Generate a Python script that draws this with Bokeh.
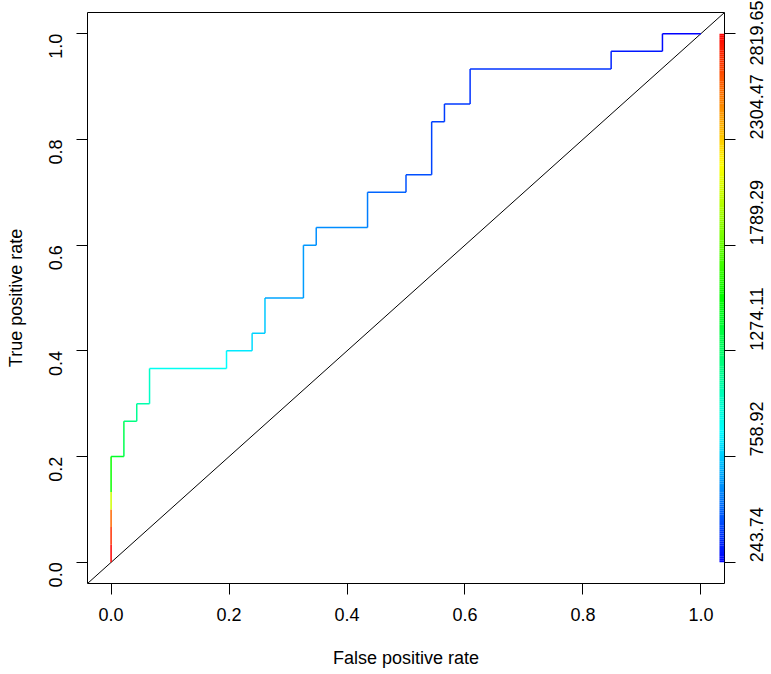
import math
import colorsys
import numpy as np
from bokeh.plotting import figure
from bokeh.models import LinearAxis, FixedTicker, PrintfTickFormatter, Range1d
from bokeh.embed import file_html
from bokeh.resources import INLINE

# ROC curve vertices (false positive rate, true positive rate) and cutoff at each vertex
fpr = [0.0, 0.0, 0.0, 0.0, 0.0, 0.0, 0.0217, 0.0217, 0.0435, 0.0435, 0.0652, 0.0652,
       0.1957, 0.1957, 0.2391, 0.2391, 0.2609, 0.2609, 0.3261, 0.3261, 0.3478, 0.3478,
       0.4348, 0.4348, 0.5, 0.5, 0.5435, 0.5435, 0.5652, 0.5652, 0.6087, 0.6087,
       0.8478, 0.8478, 0.9348, 0.9348, 1.0]
tpr = [0.0, 0.0333, 0.0667, 0.1, 0.1333, 0.2, 0.2, 0.2667, 0.2667, 0.3, 0.3, 0.3667,
       0.3667, 0.4, 0.4, 0.4333, 0.4333, 0.5, 0.5, 0.6, 0.6, 0.6333, 0.6333, 0.7,
       0.7, 0.7333, 0.7333, 0.8333, 0.8333, 0.8667, 0.8667, 0.9333, 0.9333, 0.9667,
       0.9667, 1.0, 1.0]
cutoff = [float("inf"), 2819.65, 2700, 2560, 2050, 1560, 1430, 1330, 1210, 1160, 1100,
          1030, 920, 885, 835, 800, 770, 750, 660, 640, 625, 605, 600, 560, 500, 450,
          442, 415, 405, 395, 385, 370, 372, 330, 300, 270, 243.74]

cut_min, cut_max = 243.74, 2819.65
colorbar_ticks = [0.0, 0.2, 0.4, 0.6, 0.8, 1.0]
colorbar_labels = ["243.74", "758.92", "1274.11", "1789.29", "2304.47", "2819.65"]
axis_ticks = [0.0, 0.2, 0.4, 0.6, 0.8, 1.0]


def cut_color(c):
    t = (c - cut_min) / (cut_max - cut_min)
    t = min(max(t, 0.0), 1.0)
    h = (4.0 / 6.0) * (1.0 - t)
    r, g, b = colorsys.hsv_to_rgb(h, 1.0, 1.0)
    return "#%02x%02x%02x" % (int(round(r * 255)), int(round(g * 255)), int(round(b * 255)))


FONT = "Liberation Sans"
FS = "18px"
TICK = 11

p = figure(frame_width=637, frame_height=571, output_backend="svg", toolbar_location=None,
           x_range=Range1d(-0.04, 1.04), y_range=Range1d(-0.04, 1.04),
           min_border_left=87, min_border_top=12, min_border_right=0, min_border_bottom=91)
p.background_fill_color = "white"
p.border_fill_color = "white"
p.outline_line_color = "black"
p.outline_line_width = 1
p.grid.visible = False

# diagonal reference line across the whole plot region
p.line([-0.04, 1.04], [-0.04, 1.04], line_color="black", line_width=1)

# colorized ROC curve
seg_colors = [cut_color(c) for c in cutoff[1:]]
p.segment(x0=fpr[:-1], y0=tpr[:-1], x1=fpr[1:], y1=tpr[1:], line_color=seg_colors,
          line_width=1.5)

# colour bar along the right edge
n = 256
edges = np.linspace(0.0, 1.0, n + 1)
bar_cut = cut_min + (edges[:-1] + edges[1:]) / 2 * (cut_max - cut_min)
p.quad(left=1.0315, right=1.04, bottom=edges[:-1], top=edges[1:],
       fill_color=[cut_color(c) for c in bar_cut], line_color=None)

for ax in (p.xaxis[0], p.yaxis[0]):
    ax.ticker = FixedTicker(ticks=axis_ticks)
    ax.formatter = PrintfTickFormatter(format="%.1f")
    ax.axis_line_color = None
    ax.major_tick_out = TICK
    ax.major_tick_in = 0
    ax.minor_tick_out = 0
    ax.minor_tick_in = 0
    ax.major_tick_line_color = "black"
    ax.major_label_text_font = FONT
    ax.major_label_text_font_size = FS
    ax.major_label_text_color = "black"
    ax.axis_label_text_font = FONT
    ax.axis_label_text_font_size = FS
    ax.axis_label_text_font_style = "normal"
    ax.axis_label_text_color = "black"

p.xaxis[0].axis_label = "False positive rate"
p.xaxis[0].major_label_standoff = 13
p.xaxis[0].axis_label_standoff = 24
p.yaxis[0].axis_label = "True positive rate"
p.yaxis[0].major_label_orientation = math.pi / 2
p.yaxis[0].major_label_standoff = 21
p.yaxis[0].axis_label_standoff = 14

right = LinearAxis(ticker=FixedTicker(ticks=colorbar_ticks),
                   major_label_overrides={k: v for k, v in zip(colorbar_ticks, colorbar_labels)})
right.axis_line_color = None
right.major_tick_out = TICK
right.major_tick_in = 0
right.minor_tick_out = 0
right.minor_tick_in = 0
right.major_tick_line_color = "black"
right.major_label_orientation = math.pi / 2
right.major_label_standoff = 21
right.major_label_text_font = FONT
right.major_label_text_font_size = FS
right.major_label_text_color = "black"
p.add_layout(right, "right")

open("out.html", "w").write(file_html(p, INLINE))
